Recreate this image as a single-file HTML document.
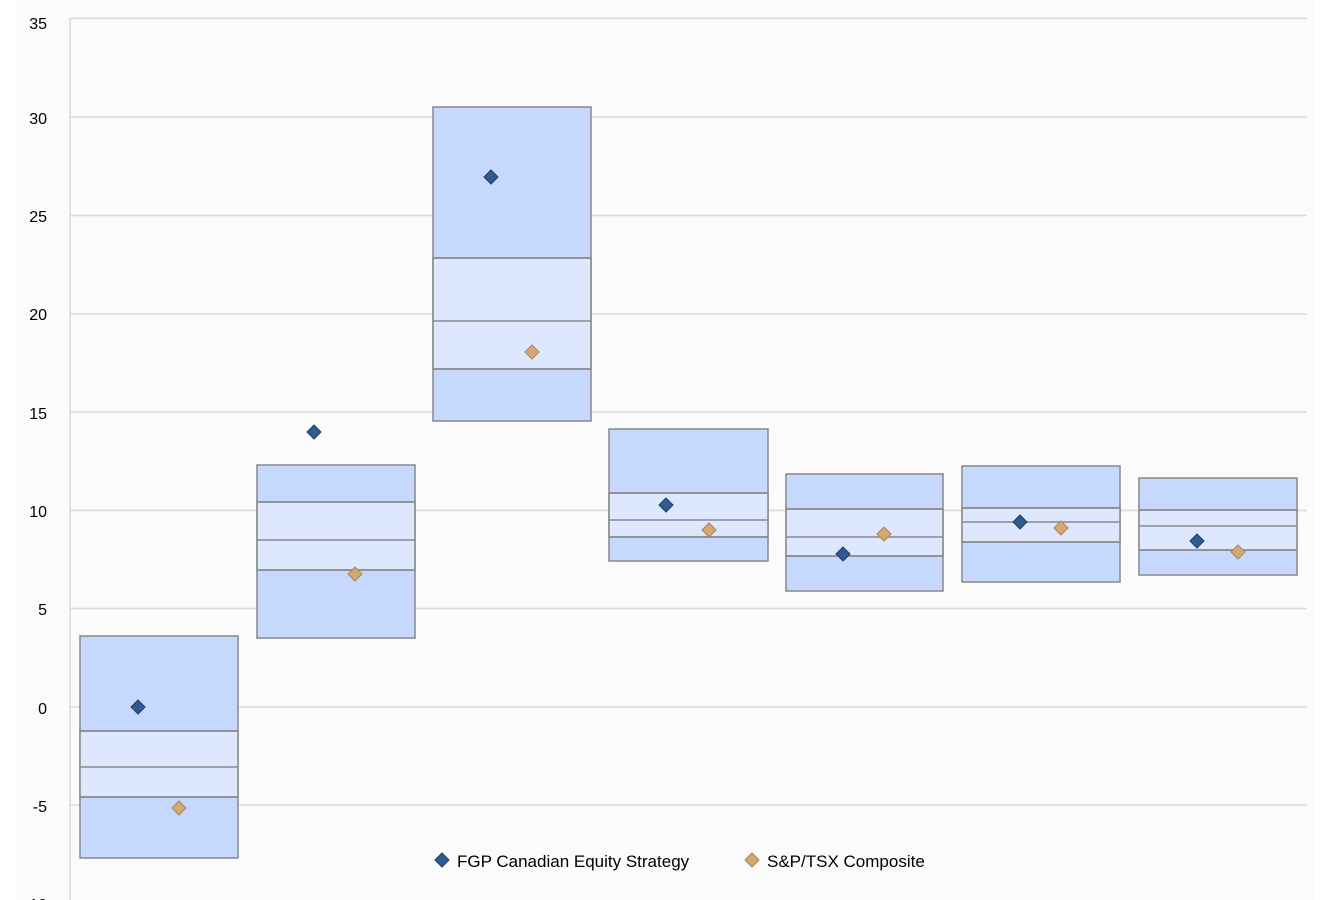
<!DOCTYPE html>
<html><head><meta charset="utf-8"><style>
html,body{margin:0;padding:0;background:#fff;}
svg{display:block;font-family:"Liberation Sans",sans-serif;}
</style></head><body>
<svg width="1332" height="900" xmlns="http://www.w3.org/2000/svg">
<rect x="17" y="0" width="1297" height="900" fill="#fbfbfb"/>
<g stroke="#d9d9d9" stroke-width="1.5">
<line x1="70" y1="18.5" x2="1307" y2="18.5"/>
<line x1="70" y1="117" x2="1307" y2="117"/>
<line x1="70" y1="215.5" x2="1307" y2="215.5"/>
<line x1="70" y1="314" x2="1307" y2="314"/>
<line x1="70" y1="412" x2="1307" y2="412"/>
<line x1="70" y1="510.5" x2="1307" y2="510.5"/>
<line x1="70" y1="608.5" x2="1307" y2="608.5"/>
<line x1="70" y1="707" x2="1307" y2="707"/>
<line x1="70" y1="805" x2="1307" y2="805"/>
<line x1="70" y1="18" x2="70" y2="900"/>
</g>
<g font-size="16" fill="#000" text-anchor="end">
<text x="47" y="29">35</text>
<text x="47" y="124">30</text>
<text x="47" y="222">25</text>
<text x="47" y="320">20</text>
<text x="47" y="419">15</text>
<text x="47" y="517">10</text>
<text x="47" y="615">5</text>
<text x="47" y="714">0</text>
<text x="47" y="812">-5</text>
<text x="47" y="910">-10</text>
</g>
<g stroke="#888" stroke-width="1.5">
<!-- box template: outer, inner, lines -->
<rect x="80" y="636" width="158" height="222" fill="#c6d8fd"/><rect x="80" y="731" width="158" height="66" fill="#dde7fe"/><line x1="80" y1="731" x2="238" y2="731"/><line x1="80" y1="767" x2="238" y2="767"/><line x1="80" y1="797" x2="238" y2="797"/>
<rect x="257" y="465" width="158" height="173" fill="#c6d8fd"/><rect x="257" y="502" width="158" height="68" fill="#dde7fe"/><line x1="257" y1="502" x2="415" y2="502"/><line x1="257" y1="540" x2="415" y2="540"/><line x1="257" y1="570" x2="415" y2="570"/>
<rect x="433" y="107" width="158" height="314" fill="#c6d8fd"/><rect x="433" y="258" width="158" height="111" fill="#dde7fe"/><line x1="433" y1="258" x2="591" y2="258"/><line x1="433" y1="321" x2="591" y2="321"/><line x1="433" y1="369" x2="591" y2="369"/>
<rect x="609" y="429" width="159" height="132" fill="#c6d8fd"/><rect x="609" y="493" width="159" height="44" fill="#dde7fe"/><line x1="609" y1="493" x2="768" y2="493"/><line x1="609" y1="520" x2="768" y2="520"/><line x1="609" y1="537" x2="768" y2="537"/>
<rect x="786" y="474" width="157" height="117" fill="#c6d8fd"/><rect x="786" y="509" width="157" height="47" fill="#dde7fe"/><line x1="786" y1="509" x2="943" y2="509"/><line x1="786" y1="537" x2="943" y2="537"/><line x1="786" y1="556" x2="943" y2="556"/>
<rect x="962" y="466" width="158" height="116" fill="#c6d8fd"/><rect x="962" y="508" width="158" height="34" fill="#dde7fe"/><line x1="962" y1="508" x2="1120" y2="508"/><line x1="962" y1="522" x2="1120" y2="522"/><line x1="962" y1="542" x2="1120" y2="542"/>
<rect x="1139" y="478" width="158" height="97" fill="#c6d8fd"/><rect x="1139" y="510" width="158" height="40" fill="#dde7fe"/><line x1="1139" y1="510" x2="1297" y2="510"/><line x1="1139" y1="526" x2="1297" y2="526"/><line x1="1139" y1="550" x2="1297" y2="550"/>
</g>
<defs>
<path id="d" d="M0,-7 L7,0 L0,7 L-7,0Z"/>
</defs>
<g fill="#2f5b90" stroke="#1f3f66" stroke-width="1">
<use href="#d" x="138" y="707"/><use href="#d" x="314" y="432"/><use href="#d" x="491" y="177"/><use href="#d" x="666" y="505"/><use href="#d" x="843" y="554"/><use href="#d" x="1020" y="522"/><use href="#d" x="1197" y="541"/>
<use href="#d" x="442" y="860" transform=""/>
</g>
<g fill="#d3a873" stroke="#a88553" stroke-width="1">
<use href="#d" x="179" y="808"/><use href="#d" x="355" y="574"/><use href="#d" x="532" y="352"/><use href="#d" x="709" y="530"/><use href="#d" x="884" y="534"/><use href="#d" x="1061" y="528"/><use href="#d" x="1238" y="552"/>
<use href="#d" x="752" y="860"/>
</g>
<g font-size="17" fill="#000">
<text x="457" y="867">FGP Canadian Equity Strategy</text>
<text x="767" y="867">S&amp;P/TSX Composite</text>
</g>
</svg>
</body></html>
